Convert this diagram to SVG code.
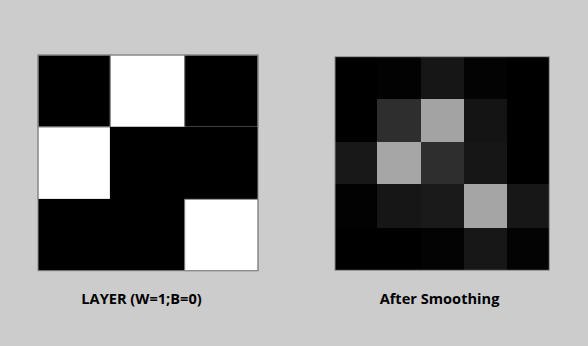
<svg xmlns="http://www.w3.org/2000/svg" width="588" height="346" viewBox="0 0 588 346">
<style>
.lbl{font-family:"Open Sans","Liberation Sans",sans-serif;font-weight:bold;font-size:14.6px;fill:#000;text-anchor:middle}
.c{stroke:#808080;stroke-width:1}
.s{stroke:none;shape-rendering:crispEdges}
.frame{fill:none;stroke:#8a8a8a;stroke-width:1}
</style>
<rect width="588" height="346" fill="#cccccc"/>
<g id="layer">
<rect class="c" x="38" y="55" width="72.3" height="72" fill="#000"/>
<rect class="c" x="110.3" y="55" width="74.4" height="72" fill="#fff"/>
<rect class="c" x="184.7" y="55" width="73.3" height="72" fill="#000"/>
<rect class="c" x="38" y="127" width="72.3" height="72.3" fill="#fff"/>
<rect class="s" x="110.3" y="127" width="147.7" height="72.3" fill="#000"/>
<rect class="s" x="38" y="199.3" width="146.7" height="71.4" fill="#000"/>
<rect class="c" x="184.7" y="199.3" width="73.3" height="71.4" fill="#fff"/>
<rect class="frame" x="38" y="55" width="220" height="215.7"/>
</g>
<g id="smoothed">
<rect class="s" x="335" y="57" width="43" height="42" fill="#000"/>
<rect class="s" x="377" y="57" width="44" height="42" fill="#020202"/>
<rect class="s" x="421" y="57" width="43" height="42" fill="#161616"/>
<rect class="s" x="464" y="57" width="43" height="42" fill="#030303"/>
<rect class="s" x="507" y="57" width="42" height="42" fill="#000"/>
<rect class="s" x="335" y="99" width="43" height="43" fill="#000"/>
<rect class="s" x="377" y="99" width="44" height="43" fill="#2e2e2e"/>
<rect class="s" x="421" y="99" width="43" height="43" fill="#a3a3a3"/>
<rect class="s" x="464" y="99" width="43" height="43" fill="#141414"/>
<rect class="s" x="507" y="99" width="42" height="43" fill="#000"/>
<rect class="s" x="335" y="142" width="43" height="42" fill="#181818"/>
<rect class="s" x="377" y="142" width="44" height="42" fill="#a6a6a6"/>
<rect class="s" x="421" y="142" width="43" height="42" fill="#2e2e2e"/>
<rect class="s" x="464" y="142" width="43" height="42" fill="#161616"/>
<rect class="s" x="507" y="142" width="42" height="42" fill="#000"/>
<rect class="s" x="335" y="184" width="43" height="44" fill="#020202"/>
<rect class="s" x="377" y="184" width="44" height="44" fill="#161616"/>
<rect class="s" x="421" y="184" width="43" height="44" fill="#1a1a1a"/>
<rect class="s" x="464" y="184" width="43" height="44" fill="#a5a5a5"/>
<rect class="s" x="507" y="184" width="42" height="44" fill="#171717"/>
<rect class="s" x="335" y="228" width="43" height="42" fill="#000"/>
<rect class="s" x="377" y="228" width="44" height="42" fill="#000"/>
<rect class="s" x="421" y="228" width="43" height="42" fill="#030303"/>
<rect class="s" x="464" y="228" width="43" height="42" fill="#171717"/>
<rect class="s" x="507" y="228" width="42" height="42" fill="#030303"/>
<rect class="frame" x="335" y="56.7" width="214.3" height="213.6"/>
</g>
<text class="lbl" x="141.5" y="304">LAYER (W=1;B=0)</text>
<text class="lbl" x="439.5" y="304">After Smoothing</text>
</svg>
